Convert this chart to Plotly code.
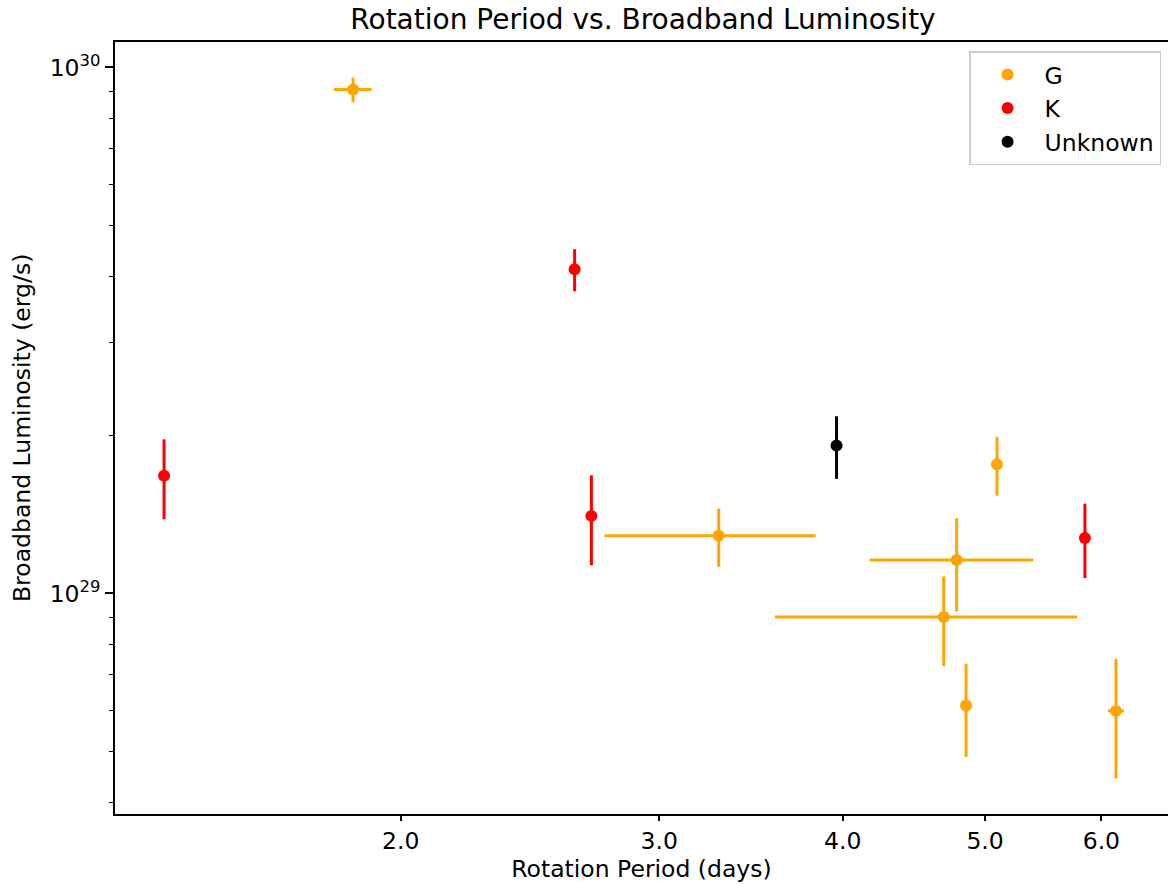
import plotly.graph_objects as go

# ---- data ----
g_period = [1.856, 3.293, 5.094, 4.782, 4.686, 4.853, 6.139]
g_period_err = [0.055, 0.54, 0.0, 0.61, 1.09, 0.0, 0.076]
g_lum = [9.07e29, 1.287e29, 1.759e29, 1.157e29, 9.02e28, 6.12e28, 5.98e28]
g_lum_err = [4.9e28, 1.63e28, 2.25e28, 2.33e28, 1.75e28, 1.23e28, 1.53e28]

k_period = [1.380, 2.627, 2.697, 5.847]
k_lum = [1.673e29, 4.132e29, 1.404e29, 1.275e29]
k_lum_err = [2.9e28, 3.8e28, 2.73e28, 2.06e28]

u_period = [3.961]
u_lum = [1.911e29]
u_lum_err = [2.6e28]

x_ticks = [2.0, 3.0, 4.0, 5.0, 6.0]
x_tick_labels = ["2.0", "3.0", "4.0", "5.0", "6.0"]
y_ticks = [1e29, 1e30]
y_tick_labels = ["10<sup>29</sup>", "10<sup>30</sup>"]
y_minor = [4e28, 5e28, 6e28, 7e28, 8e28, 9e28,
           2e29, 3e29, 4e29, 5e29, 6e29, 7e29, 8e29, 9e29]

FONT = "DejaVu Sans"
FS = 23.5

fig = go.Figure()


def add_series(name, color, xs, ys, yerr, xerr=None, group=None):
    tr = dict(
        x=xs, y=ys, mode="markers", name=name, legendgroup=group or name,
        marker=dict(color=color, size=12, line=dict(width=0)),
        error_y=dict(type="data", array=yerr, symmetric=True,
                     color=color, thickness=3, width=0),
    )
    if xerr is not None:
        tr["error_x"] = dict(type="data", array=xerr, symmetric=True,
                             color=color, thickness=3, width=0)
    fig.add_trace(go.Scatter(**tr))


add_series("G", "#FFA500", g_period, g_lum, g_lum_err, g_period_err)
add_series("K", "#FF0000", k_period, k_lum, k_lum_err)
add_series("Unknown", "#000000", u_period, u_lum, u_lum_err)

PLOT_W = 1168 - 115

fig.update_layout(
    width=1168, height=884,
    margin=dict(l=115, r=0, t=42, b=70, autoexpand=False),
    paper_bgcolor="white", plot_bgcolor="white",
    font=dict(family=FONT, size=FS, color="black"),
    title=dict(text="Rotation Period vs. Broadband Luminosity",
               x=643 / 1168, xanchor="center", xref="container",
               y=1 - 19 / 884, yanchor="middle", yref="container",
               font=dict(size=28, family=FONT)),
    showlegend=True,
    legend=dict(x=0.9934, xanchor="right", y=0.9880, yanchor="top",
                bgcolor="white", bordercolor="#cccccc", borderwidth=1.5,
                font=dict(size=FS, family=FONT),
                traceorder="grouped", tracegroupgap=0, itemwidth=64),
    annotations=[dict(text="Broadband Luminosity (erg/s)", textangle=-90,
                      xref="paper", yref="paper",
                      x=(22 - 115) / PLOT_W, y=0.5,
                      xanchor="center", yanchor="middle", showarrow=False,
                      font=dict(size=FS, family=FONT, color="black"))],
)

fig.update_xaxes(
    type="log", range=[0.10648, 0.82351],
    tickmode="array", tickvals=x_ticks, ticktext=x_tick_labels,
    ticks="outside", ticklen=5, tickwidth=1.6, tickcolor="black",
    tickfont=dict(size=FS, family=FONT),
    showline=True, linecolor="black", linewidth=1.6, mirror=True,
    showgrid=False, zeroline=False,
    title=dict(text="Rotation Period (days)", standoff=6,
               font=dict(size=FS, family=FONT)),
)

fig.update_yaxes(
    type="log", range=[28.5807, 30.0481],
    tickmode="array", tickvals=y_ticks, ticktext=y_tick_labels,
    ticks="outside", ticklen=8, tickwidth=1.6, tickcolor="black",
    tickfont=dict(size=FS, family=FONT),
    minor=dict(tickmode="array", tickvals=y_minor, ticks="outside",
               ticklen=4, tickwidth=1.4, tickcolor="black", showgrid=False),
    showline=True, linecolor="black", linewidth=1.6, mirror=False,
    showgrid=False, zeroline=False,
)

fig.write_html("out.html")
